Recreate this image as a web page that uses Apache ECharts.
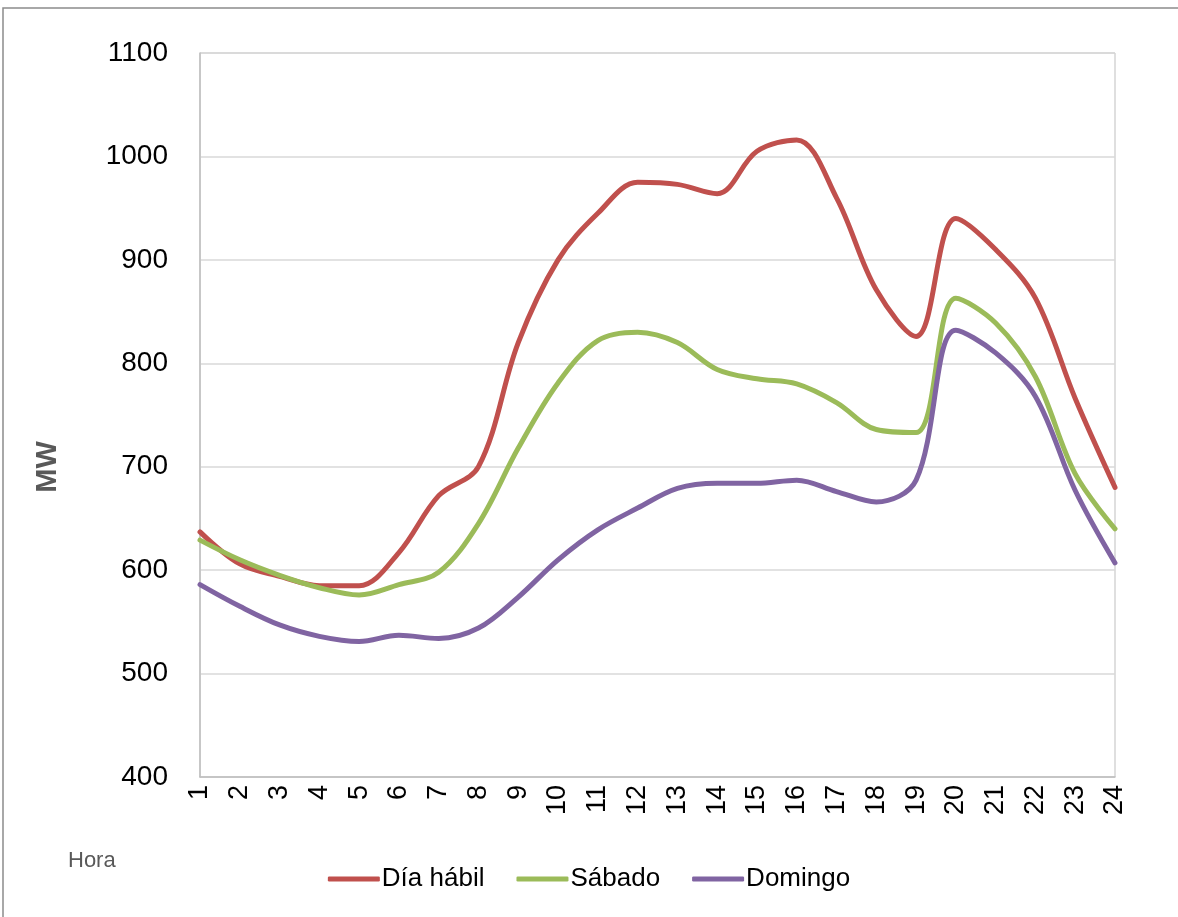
<!DOCTYPE html>
<html>
<head>
<meta charset="utf-8">
<script src="https://cdn.jsdelivr.net/npm/echarts@6/dist/echarts.min.js"></script>
<style>
html,body{margin:0;padding:0;background:#fff;}
#chart{width:1178px;height:917px;}
</style>
</head>
<body>
<div id="chart"></div>
<script>
const hours = ['1','2','3','4','5','6','7','8','9','10','11','12','13','14','15','16','17','18','19','20','21','22','23','24'];
const diaHabil = [637, 606, 594, 585, 585, 617, 672, 700, 820, 900, 945, 975, 973, 964, 1005, 1016, 960, 871, 826, 940, 910, 863, 766, 680];
const sabado   = [629, 610, 595, 583, 576, 586, 598, 645, 718, 781, 822, 830, 820, 794, 785, 780, 762, 736, 733, 863, 839, 787, 693, 640];
const domingo  = [586, 565, 547, 536, 531, 537, 534, 544, 574, 610, 639, 660, 679, 684, 684, 687, 676, 666, 687, 832, 810, 768, 677, 607];
const yTicks = { min: 400, max: 1100, interval: 100 };

const chart = echarts.init(document.getElementById('chart'));
const font = 'Liberation Sans, Arial, sans-serif';
function mk(name, data, color) {
  return {
    name: name, type: 'line', data: data, smooth: 0.35,
    symbol: 'none', lineStyle: { color: color, width: 5, cap: 'round', join: 'round' },
    itemStyle: { color: color }
  };
}
chart.setOption({
  animation: false,
  backgroundColor: '#ffffff',
  grid: { left: 200, right: 63, top: 53, bottom: 140, show: true, borderColor: '#BFBFBF', borderWidth: 1 },
  xAxis: {
    type: 'category', data: hours, boundaryGap: false,
    axisLine: { lineStyle: { color: '#BFBFBF', width: 1.5 } },
    axisTick: { show: false },
    axisLabel: { rotate: 90, margin: 8, color: '#000', fontSize: 27, fontFamily: font, interval: 0 },
    splitLine: { show: false }
  },
  yAxis: {
    type: 'value', min: yTicks.min, max: yTicks.max, interval: yTicks.interval,
    axisLine: { show: true, lineStyle: { color: '#BFBFBF', width: 1.5 } },
    axisTick: { show: false },
    axisLabel: { margin: 32, color: '#000', fontSize: 28, fontFamily: font, formatter: function (v) { return String(v); } },
    splitLine: { lineStyle: { color: '#D9D9D9', width: 1.5 } }
  },
  legend: {
    bottom: 20, left: 'center',
    itemWidth: 52, itemHeight: 5, itemGap: 32, icon: 'roundRect',
    textStyle: { color: '#000', fontSize: 26, fontFamily: font, padding: [0, 0, 0, -3] },
    data: ['Día hábil', 'Sábado', 'Domingo']
  },
  graphic: [
    { type: 'rect', shape: { x: 3, y: 8, width: 1200, height: 1000 }, style: { fill: 'none', stroke: '#8C8C8C', lineWidth: 1.5 }, silent: true },
    { type: 'text', left: 68, top: 850, style: { text: 'Hora', fill: '#595959', fontSize: 22, fontFamily: font } },
    { type: 'text', x: 48, y: 467, rotation: Math.PI / 2,
      style: { text: 'MW', fill: '#595959', fontSize: 29, fontWeight: 'bold', fontFamily: font, align: 'center', verticalAlign: 'middle' } }
  ],
  series: [
    mk('Día hábil', diaHabil, '#C0504D'),
    mk('Sábado', sabado, '#9BBB59'),
    mk('Domingo', domingo, '#8064A2')
  ]
});
</script>
</body>
</html>
